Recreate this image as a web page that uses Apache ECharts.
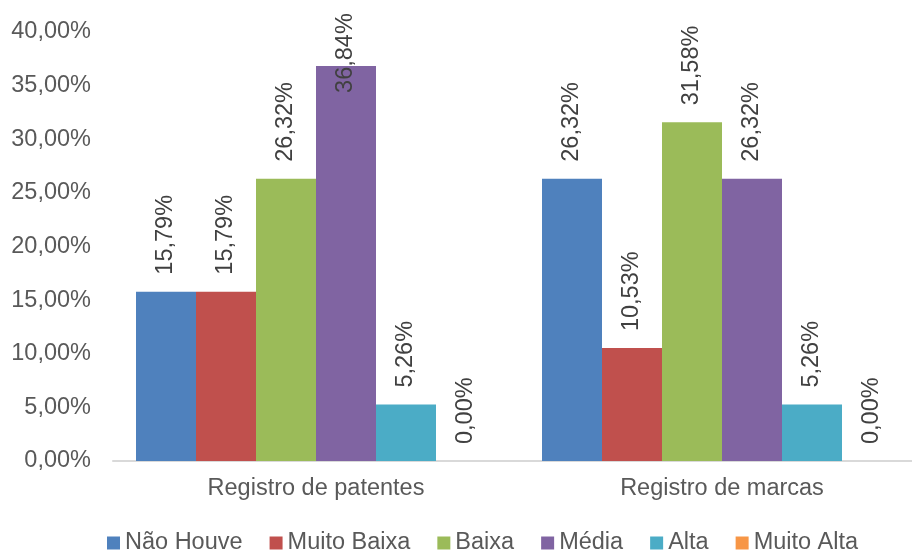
<!DOCTYPE html>
<html>
<head>
<meta charset="utf-8">
<script src="https://cdn.jsdelivr.net/npm/echarts@6/dist/echarts.min.js"></script>
<style>
    html, body { margin: 0; padding: 0; background: #fff; }
    #chart { width: 912px; height: 551px; }
</style>
</head>
<body>
<div id="chart"></div>
<script>
// 类别与数据
const categories = ['Registro de patentes', 'Registro de marcas'];
const levels = ['Não Houve', 'Muito Baixa', 'Baixa', 'Média', 'Alta', 'Muito Alta'];
const naoHouve = [15.79, 26.32];
const muitoBaixa = [15.79, 10.53];
const baixa = [26.32, 31.58];
const media = [36.84, 26.32];
const alta = [5.26, 5.26];
const muitoAlta = [0, 0];
const yTicks = [0, 5, 10, 15, 20, 25, 30, 35, 40];

const colors = ['#4F81BD', '#C0504D', '#9BBB59', '#8064A2', '#4BACC6', '#F79646'];
const values = [naoHouve, muitoBaixa, baixa, media, alta, muitoAlta];
const font = 'Liberation Sans, Arial, sans-serif';

function pct(v) {
    return v.toFixed(2).replace('.', ',') + '%';
}

// 太高的柱子：标签压进柱内，不超出顶部（像 Excel 一样）
function toItem(v) {
    return v > 35 ? { value: v, label: { distance: -27 } } : v;
}

const chart = echarts.init(document.getElementById('chart'));
chart.setOption({
    animation: false,
    color: colors,
    textStyle: { fontFamily: font },
    grid: { left: 113, width: 812, top: 32, bottom: 90, outerBoundsMode: 'none', containLabel: false },
    legend: {
        data: levels,
        left: 102,
        top: 526,
        itemWidth: 13,
        itemHeight: 13,
        itemGap: 27,
        icon: 'rect',
        textStyle: { fontSize: 23.5, color: '#595959', fontFamily: font }
    },
    xAxis: {
        type: 'category',
        data: categories,
        axisLine: { lineStyle: { color: '#D9D9D9', width: 2 } },
        axisTick: { show: false },
        axisLabel: { fontSize: 23.5, color: '#595959', margin: 16, fontFamily: font }
    },
    yAxis: {
        type: 'value',
        min: yTicks[0],
        max: yTicks[yTicks.length - 1],
        interval: 5,
        splitLine: { show: false },
        axisLine: { show: false },
        axisTick: { show: false },
        axisLabel: { fontSize: 23.5, color: '#595959', margin: 22, fontFamily: font, formatter: v => pct(v) }
    },
    series: levels.map((name, i) => ({
        name: name,
        type: 'bar',
        data: values[i].map(toItem),
        barWidth: 60,
        barGap: '0%',
        label: {
            show: true,
            position: 'top',
            rotate: 90,
            align: 'left',
            verticalAlign: 'middle',
            distance: 17,
            fontSize: 23.5,
            color: '#404040',
            fontFamily: font,
            formatter: p => pct(p.value)
        }
    }))
});
</script>
</body>
</html>
